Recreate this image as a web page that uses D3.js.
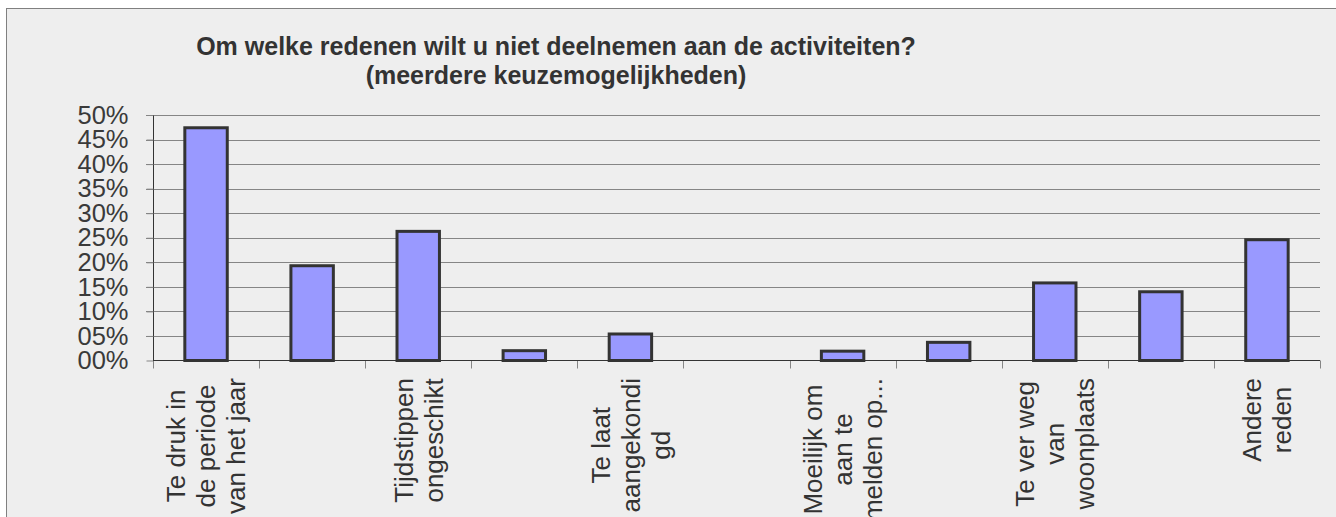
<!DOCTYPE html>
<html lang="nl">
<head>
<meta charset="utf-8">
<title>Redenen niet deelnemen</title>
<script src="https://cdn.jsdelivr.net/npm/d3@7"></script>
<style>
  body { margin: 0; background: #fff; }
  text { font-family: "Liberation Sans", Arial, sans-serif; }
</style>
</head>
<body>
<script>
  var w = 1336;
  var h = 517;

  // category labels (every other one is hidden in the original chart)
  var labels = [
    ["Te druk in", "de periode", "van het jaar"],
    [],
    ["Tijdstippen", "ongeschikt"],
    [],
    ["Te laat", "aangekondi", "gd"],
    [],
    ["Moeilijk om", "aan te", "melden op..."],
    [],
    ["Te ver weg", "van", "woonplaats"],
    [],
    ["Andere", "reden"]
  ];
  var values = [0.474, 0.193, 0.263, 0.020, 0.054, 0.000, 0.019, 0.037, 0.158, 0.140, 0.246];
  var yTicks = [0, 0.05, 0.10, 0.15, 0.20, 0.25, 0.30, 0.35, 0.40, 0.45, 0.50];
  var titleLines = ["Om welke redenen wilt u niet deelnemen aan de activiteiten?", "(meerdere keuzemogelijkheden)"];

  var plot = { left: 153, right: 1320, top: 115, bottom: 360.5 };

  var svg = d3.select("body").append("svg")
    .attr("width", w)
    .attr("height", h);

  // chart frame
  svg.append("rect")
    .attr("x", 6.5).attr("y", 8.5)
    .attr("width", w).attr("height", h)
    .attr("fill", "#eeeeee")
    .attr("stroke", "#808080");

  // title
  svg.append("text")
    .attr("text-anchor", "middle")
    .attr("font-size", 25)
    .attr("font-weight", "bold")
    .attr("fill", "#333")
    .selectAll("tspan")
    .data(titleLines)
    .enter().append("tspan")
    .attr("x", 556)
    .attr("y", function(d, i) { return 55 + i * 29; })
    .text(function(d) { return d; });

  var x = d3.scaleBand()
    .domain(d3.range(values.length))
    .range([plot.left, plot.right]);

  var y = d3.scaleLinear()
    .domain([0, 0.5])
    .range([plot.bottom, plot.top]);

  // gridlines
  svg.append("g")
    .selectAll("line")
    .data(yTicks.slice(1))
    .enter().append("line")
    .attr("x1", plot.left - 7).attr("x2", plot.right)
    .attr("y1", function(d) { return Math.round(y(d)) + 0.5; })
    .attr("y2", function(d) { return Math.round(y(d)) + 0.5; })
    .attr("stroke", "#858585");

  // y axis
  var yAxis = d3.axisLeft(y)
    .tickValues(yTicks)
    .tickSize(7)
    .tickFormat(function(d) { return d3.format("02d")(Math.round(d * 100)) + "%"; });

  var gy = svg.append("g")
    .attr("transform", "translate(" + (plot.left + 0.5) + ",0)")
    .call(yAxis);
  gy.select(".domain").attr("stroke", "#333").attr("d", "M0," + plot.top + "V" + plot.bottom);
  gy.selectAll(".tick line").attr("stroke", "#858585");
  gy.selectAll(".tick text")
    .attr("x", -25)
    .attr("font-size", 25.5)
    .attr("font-family", "Liberation Sans, Arial, sans-serif")
    .attr("fill", "#3a3a3a");

  // x ticks at category boundaries
  svg.append("g")
    .selectAll("line")
    .data(d3.range(values.length + 1))
    .enter().append("line")
    .attr("x1", function(d) { return Math.round(plot.left + d * x.step()) + 0.5; })
    .attr("x2", function(d) { return Math.round(plot.left + d * x.step()) + 0.5; })
    .attr("y1", plot.bottom).attr("y2", plot.bottom + 8)
    .attr("stroke", "#858585");

  // bars
  var bw = x.bandwidth() * 0.4;
  svg.append("g")
    .selectAll("rect")
    .data(values)
    .enter().append("rect")
    .attr("x", function(d, i) { return x(i) + (x.bandwidth() - bw) / 2; })
    .attr("y", function(d) { return y(d); })
    .attr("width", bw)
    .attr("height", function(d) { return y(0) - y(d); })
    .attr("fill", "#9999ff")
    .attr("stroke", "#333")
    .attr("stroke-width", 3);

  // x axis line
  svg.append("line")
    .attr("x1", plot.left).attr("x2", plot.right)
    .attr("y1", plot.bottom).attr("y2", plot.bottom)
    .attr("stroke", "#333");

  // category labels, rotated, lines centered within the block
  var labelSize = 26, lineH = 30, labelTop = 378;
  labels.forEach(function(lines, i) {
    if (!lines.length) return;
    var cx = x(i) + x.bandwidth() / 2;
    var g = svg.append("g")
      .attr("transform", "translate(" + cx + "," + labelTop + ") rotate(-90)");
    var t = g.selectAll("text")
      .data(lines)
      .enter().append("text")
      .attr("font-size", labelSize)
      .attr("fill", "#333")
      .attr("text-anchor", "middle")
      .attr("y", function(d, j) { return (j - (lines.length - 1) / 2) * lineH + 0.36 * labelSize; })
      .text(function(d) { return d; });
    var maxW = 0;
    t.each(function() { maxW = Math.max(maxW, this.getComputedTextLength()); });
    t.attr("x", -maxW / 2);
  });
</script>
</body>
</html>
